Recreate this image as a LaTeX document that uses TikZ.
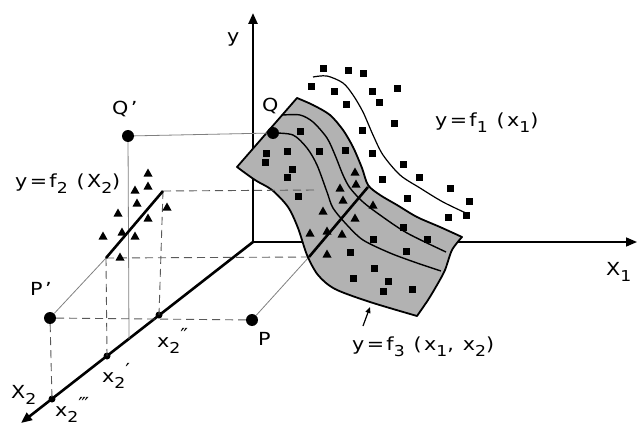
\documentclass[tikz,border=0pt]{standalone}
\usepackage{fontspec}
\setmainfont{DejaVu Sans}[FakeStretch=1.15,LetterSpace=13]
\usepackage{xcolor}
\usetikzlibrary{arrows.meta}
\newcommand\lo[1]{\raisebox{-0.35em}{\fontsize{15}{15}\selectfont #1}}
\newcommand\lop[2]{\lo{#1}\raisebox{0.3em}{\fontsize{18}{18}\selectfont #2}}

\begin{document}
\begin{tikzpicture}[x=1pt,y=-1pt,every node/.style={font=\fontsize{18}{20}\selectfont, inner sep=0pt, anchor=base west},
  dot/.style={circle, fill=black, minimum size=12pt, anchor=center},
  axis/.style={line width=2.4pt, -{Triangle[length=11pt,width=9pt]}},
  proj/.style={gray, line width=0.8pt},
  guide/.style={black!65, line width=0.9pt, dash pattern=on 8pt off 5pt},
  face/.style={fill=black!30, draw=black, line width=1.8pt, line join=round},
  level/.style={line width=1.4pt}]
\useasboundingbox (0,0) rectangle (638,428);
% axes
\coordinate (O) at (253,242);
\coordinate (ytip) at (253,13);
\coordinate (x1tip) at (637,242);
\coordinate (x2tip) at (21,423);
\draw[axis] (O) -- (ytip);
\draw[axis,line width=1.6pt] (O) -- (x1tip);
\draw[axis,line width=2.6pt] (O) -- (x2tip);
% points on the x2 axis
\coordinate (m3) at (52,399);
\coordinate (m1) at (107,356);
\coordinate (m2) at (159,315);
\coordinate (qfoot) at (129,339);
\foreach \m in {m1,m2,m3} \fill (\m) circle (3.5pt);
% projections
\node[dot] (Qp) at (128,136) {};
\node[dot] (Pp) at (50,318) {};
\node[dot] (P) at (252,320) {};
\coordinate (f2lo) at (106,258);
\coordinate (f2hi) at (163,191);
\coordinate (slo) at (309,257);
\coordinate (shi) at (368,187);
\coordinate (sdash) at (316,190);
\draw[proj] (Qp) -- (qfoot);
\draw[proj] (Pp) -- (f2lo);
\draw[proj] (P) -- (slo);
\draw[guide] (Pp) -- (P);
\draw[guide] (Pp) -- (m3);
\draw[guide] (f2lo) -- (m1);
\draw[guide] (f2hi) -- (m2);
\draw[guide] (f2lo) -- (slo);
\draw[line width=2.6pt] (f2lo) -- (f2hi);
\foreach \x/\y in {148/173,148/186,135/190,137/203,167/207,118/213,148/218,103/236,122/232,135/236,120/257}
  \fill (\x-4.5,\y+3.5) -- (\x+4.5,\y+3.5) -- (\x,\y-4.5) -- cycle;
% surface y=f3
\draw[face] plot[smooth] coordinates {(297,98) (313,105) (330,115) (343,130) (353,147) (362,168) (368,185) (380,195) (397,205) (417,217) (440,227) (462,237)}
  -- plot[smooth] coordinates {(462,237) (452,250) (445,270) (437,285) (428,300) (417,316)}
  -- plot[smooth] coordinates {(417,316) (370,302) (335,289) (318,275) (307,255) (298,228) (288,207) (272,190) (255,180) (237,167)}
  -- cycle;
\draw[level] plot[smooth] coordinates {(283,115) (300,115) (313,122) (327,138) (335,155) (343,175) (350,188) (363,202) (380,215) (407,233) (446,252)};
\draw[level] plot[smooth] coordinates {(273,133) (293,135) (307,148) (317,165) (327,192) (333,208) (347,225) (363,240) (390,253) (417,263) (441,271)};
\draw[guide] (f2hi) -- (sdash);
\draw[line width=2.6pt] (slo) -- (shi);
\draw[level,line width=1.2pt] plot[smooth] coordinates {(313,77) (327,76) (343,83) (353,95) (363,112) (373,135) (383,155) (400,175) (420,188) (443,202) (468,214)};
\node[dot] (Q) at (273,133) {};
\draw[proj] (Qp) -- (Q);
% data
\foreach \x/\y in {323/69,348/71,363/74,311/87,334/92,372/92,397/89,346/105,379/103,394/124,362/131,372/153,403/164,382/179,419/177,450/188,407/198,469/201,448/217,466/215,
  300/132,266/153,265/162,287/151,319/151,345/150,292/169,287/177,298/196,403/227,427/239,373/239,350/252,406/251,374/268,353/278,388/281,383/291,412/289}
  \fill (\x-3.5,\y-3.5) rectangle (\x+3.5,\y+3.5);
\foreach \x/\y in {355/172,356/184,340/188,343/200,373/205,355/218,323/211,310/233,327/231,342/234,327/254}
  \fill (\x-4.5,\y+3.5) -- (\x+4.5,\y+3.5) -- (\x,\y-4.5) -- cycle;
% labels
\node (ylab) at (227,43) {y};
\node (x1lab) at (606,275) {X\lo{1}};
\node (x2lab) at (11,398) {X\lo{2}};
\node (Qplab) at (112,115) {Q'};
\node (Qlab) at (262,112) {Q};
\node (Pplab) at (30,295) {P'};
\node (Plab) at (258,345) {P};
\node (m2lab) at (157,347) {x\lop{2}{″}};
\node (m1lab) at (102,382) {x\lop{2}{′}};
\node (m3lab) at (55,416) {x\lop{2}{‴}};
\node (f1lab) at (435,126) {y=f\lo{1} (x\lo{1})};
\node (f2lab) at (15,187) {y=f\lo{2} (X\lo{2})};
\node (f3lab) at (352,350) {y=f\lo{3} (x\lo{1}, x\lo{2})};
\coordinate (f3tail) at (363,326);
\coordinate (f3head) at (370,307);
\draw[-{Triangle[length=6pt,width=5pt]},line width=1.2pt] (f3tail) -- (f3head);
\end{tikzpicture}
\end{document}
